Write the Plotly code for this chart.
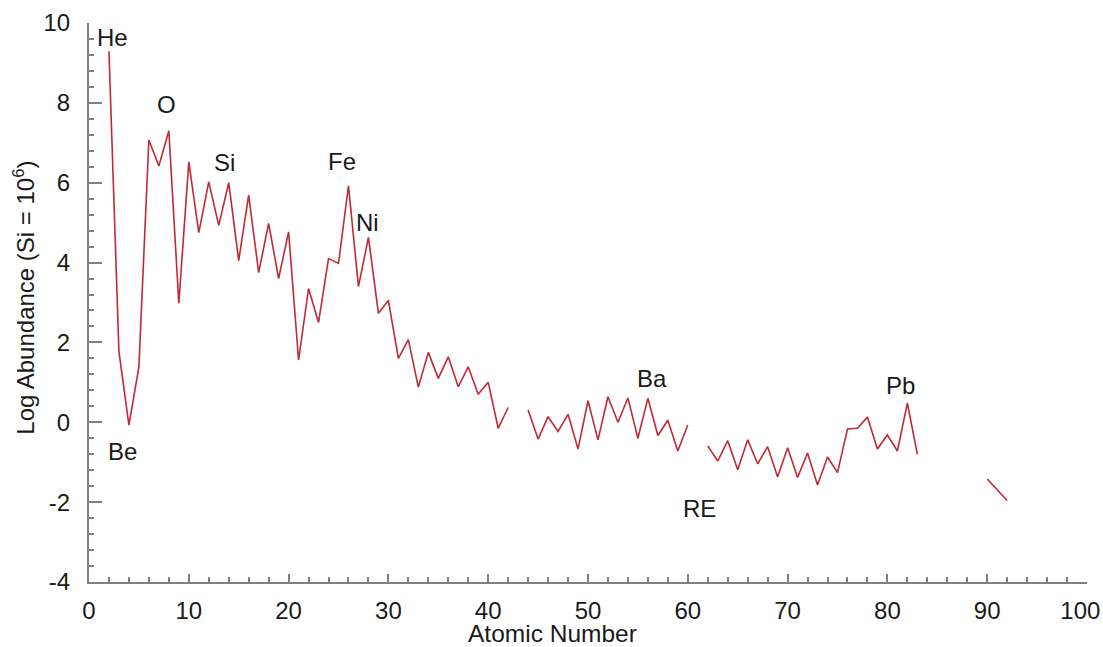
import plotly.graph_objects as go

# Atomic numbers (None = gap in the curve)
atomic_number = [2, 3, 4, 5, 6, 7, 8, 9, 10, 11, 12, 13, 14, 15, 16, 17, 18, 19, 20,
                 21, 22, 23, 24, 25, 26, 27, 28, 29, 30, 31, 32, 33, 34, 35, 36, 37,
                 38, 39, 40, 41, 42, None,
                 44, 45, 46, 47, 48, 49, 50, 51, 52, 53, 54, 55, 56, 57, 58, 59, 60, None,
                 62, 63, 64, 65, 66, 67, 68, 69, 70, 71, 72, 73, 74, 75, 76, 77, 78, 79,
                 80, 81, 82, 83, None,
                 90, 92]

log_abundance = [9.29, 1.77, -0.07, 1.39, 7.07, 6.42, 7.30, 2.98, 6.52, 4.75, 6.02, 4.93,
                 6.00, 4.05, 5.69, 3.75, 4.98, 3.60, 4.77,
                 1.56, 3.35, 2.50, 4.10, 3.98, 5.92, 3.40, 4.63, 2.73, 3.05, 1.60, 2.07,
                 0.88, 1.75, 1.10, 1.64, 0.89,
                 1.39, 0.70, 1.00, -0.15, 0.37, None,
                 0.31, -0.42, 0.14, -0.23, 0.20, -0.67, 0.54, -0.44, 0.64, 0.00, 0.61,
                 -0.40, 0.60, -0.33, 0.05, -0.72, -0.07, None,
                 -0.59, -0.97, -0.46, -1.19, -0.44, -1.04, -0.61, -1.37, -0.64, -1.38,
                 -0.77, -1.57, -0.87, -1.26, -0.17, -0.15, 0.13, -0.67,
                 -0.32, -0.72, 0.48, -0.80, None,
                 -1.42, -1.96]

# Element labels: (text, atomic-number position, log-abundance position)
label_text = ["He", "Be", "O", "Si", "Fe", "Ni", "Ba", "RE", "Pb"]
label_x = [2.4, 3.4, 7.8, 13.6, 25.4, 27.9, 56.4, 61.2, 81.3]
label_y = [9.64, -0.74, 7.96, 6.51, 6.53, 5.00, 1.10, -2.16, 0.93]

x_ticks = list(range(0, 101, 10))
x_tick_text = [str(v) for v in x_ticks]
x_tick_text[-1] = "100\u00a0\u00a0"  # last label sits just inside the right edge
y_ticks = list(range(-4, 11, 2))
y_tick_text = [str(v) for v in y_ticks]  # hyphen minus as in the original

FONT = "Liberation Sans, Arial, sans-serif"
TEXT_COLOR = "#1a1a1a"
AXIS_COLOR = "#808080"
LINE_COLOR = "#bf2a34"

fig = go.Figure()
fig.add_trace(go.Scatter(
    x=atomic_number, y=log_abundance, mode="lines",
    line=dict(color=LINE_COLOR, width=1.6),
    connectgaps=False, showlegend=False, hoverinfo="x+y",
))

annotations = []
for t, x, y in zip(label_text, label_x, label_y):
    annotations.append(dict(
        x=x, y=y, xref="x", yref="y", text=t, showarrow=False,
        font=dict(family=FONT, size=24, color=TEXT_COLOR),
        xanchor="center", yanchor="middle",
    ))

annotations.append(dict(
    x=0.464, y=-0.093, xref="paper", yref="paper", text="Atomic Number",
    showarrow=False, font=dict(family=FONT, size=24.5, color=TEXT_COLOR),
    xanchor="center", yanchor="middle",
))
annotations.append(dict(
    x=-0.0655, y=0.508, xref="paper", yref="paper",
    text="Log Abundance (Si = 10<sup>6</sup>)", textangle=-90,
    showarrow=False, font=dict(family=FONT, size=24, color=TEXT_COLOR),
    xanchor="center", yanchor="middle",
))

fig.update_layout(
    width=1103, height=647, autosize=False,
    margin=dict(l=89, r=16, t=23, b=65, pad=0, autoexpand=False),
    paper_bgcolor="white", plot_bgcolor="white",
    font=dict(family=FONT, size=24, color=TEXT_COLOR),
    annotations=annotations,
    xaxis=dict(
        range=[0, 100], tickmode="array", tickvals=x_ticks, ticktext=x_tick_text,
        ticks="inside", ticklen=8, tickwidth=1.5, tickcolor=AXIS_COLOR,
        minor=dict(dtick=2, ticks="inside", ticklen=5, tickwidth=1.5,
                   tickcolor=AXIS_COLOR, showgrid=False),
        showline=True, linecolor=AXIS_COLOR, linewidth=2,
        showgrid=False, zeroline=False, automargin=False,
        tickfont=dict(family=FONT, size=24, color=TEXT_COLOR),
        ticklabelstandoff=6, ticklabeloverflow="allow",
    ),
    yaxis=dict(
        range=[-4, 10], tickmode="array", tickvals=y_ticks, ticktext=y_tick_text,
        ticks="inside", ticklen=13, tickwidth=1.5, tickcolor=AXIS_COLOR,
        minor=dict(dtick=0.4, tick0=0, ticks="inside", ticklen=5, tickwidth=1.5,
                   tickcolor=AXIS_COLOR, showgrid=False),
        showline=True, linecolor=AXIS_COLOR, linewidth=2,
        showgrid=False, zeroline=False, automargin=False,
        tickfont=dict(family=FONT, size=24, color=TEXT_COLOR),
        ticklabelstandoff=12, ticklabeloverflow="allow",
    ),
)

fig.write_html("out.html")
